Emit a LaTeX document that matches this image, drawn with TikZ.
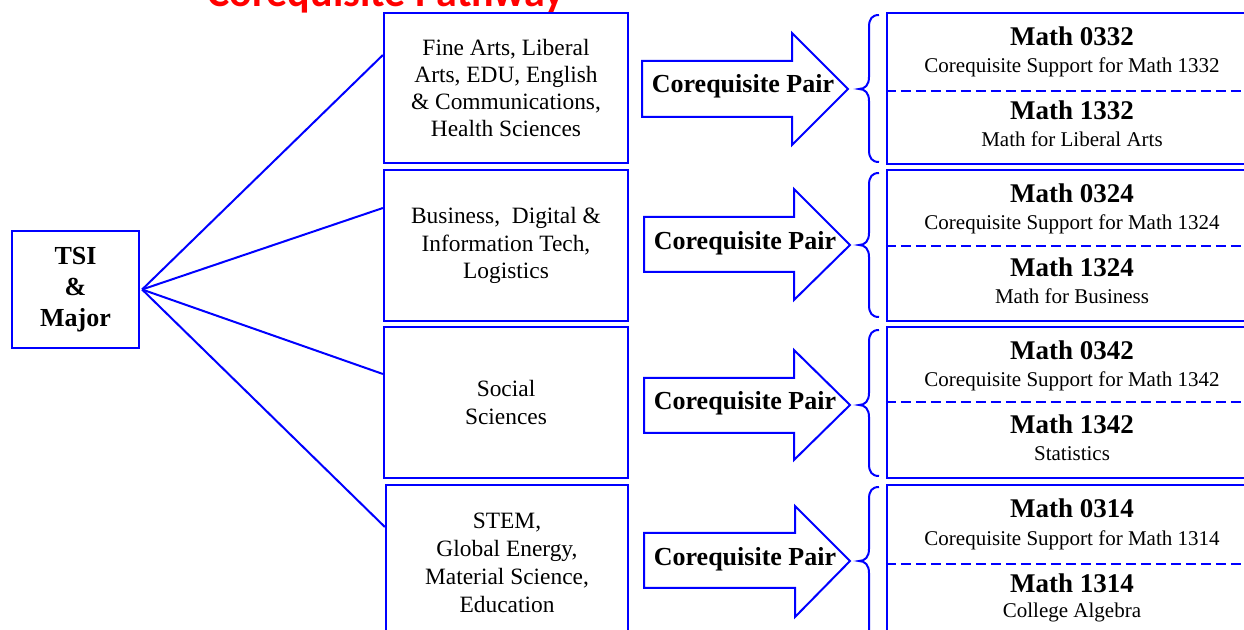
\documentclass[tikz,border=0pt]{standalone}
\usepackage{fontspec}
\setmainfont{Liberation Serif}
\newfontfamily\titlefont{Carlito}
\newcommand\mybrace[3]{%
  \draw[bracestyle] (879,#1) .. controls (872,#1) and (869,#1+4) .. (869,#1+12)
    -- (869,#2-12) .. controls (869,#2-4) and (865,#2) .. (859,#2)
    .. controls (865,#2) and (869,#2+4) .. (869,#2+12)
    -- (869,#3-12) .. controls (869,#3-4) and (872,#3) .. (879,#3);}
\begin{document}
\begin{tikzpicture}[x=0.5pt,y=-0.5pt,
  bl/.style={draw=blue,line width=1.1pt},
  catbox/.style={bl,rectangle,align=center,inner sep=0pt,minimum width=122pt,font=\fontsize{11.7}{13.6}\selectfont},
  rbox/.style={bl,rectangle,inner sep=0pt,minimum width=181.5pt},
  ttl/.style={anchor=base,font=\bfseries\fontsize{13.5}{16}\selectfont,inner sep=0pt},
  subtext/.style={anchor=base,font=\fontsize{10.5}{12}\selectfont,inner sep=0pt},
  conn/.style={draw=blue,line width=1pt},
  blockarrow/.style={draw=blue,line width=1pt,fill=white,line join=miter},
  pairtext/.style={anchor=base,font=\bfseries\fontsize{13}{15}\selectfont,inner sep=0pt},
  bracestyle/.style={draw=blue,line width=1pt},
  divider/.style={draw=blue,line width=1pt,dash pattern=on 5pt off 2.5pt}
]
\useasboundingbox (0,0) rectangle (1244,630);
\clip (0,0) rectangle (1244,630);

% title
\node[anchor=base,text=red,font=\titlefont\bfseries\fontsize{21}{24}\selectfont,inner sep=0pt] (title) at (386,7) {Corequisite Pathway};

% TSI box
\node[bl,rectangle,align=center,inner sep=0pt,minimum width=63.5pt,minimum height=58.5pt,
      font=\bfseries\fontsize{13}{15.5}\selectfont] (tsi) at (75.5,289.5) {TSI\\\&\\Major};

% category boxes
\node[catbox,minimum height=75pt] (cat1) at (506,88) {Fine Arts, Liberal\\Arts, EDU, English\\\& Communications,\\Health Sciences};
\node[catbox,minimum height=75.5pt] (cat2) at (506,245.5) {Business,\ \ Digital \&\\Information Tech,\\Logistics};
\node[catbox,minimum height=75.5pt] (cat3) at (506,402.5) {Social\\Sciences};
\node[catbox,minimum width=121pt,minimum height=77.5pt,font=\fontsize{11.7}{14}\selectfont] (cat4) at (507,562.5) {STEM,\\Global Energy,\\Material Science,\\Education};

% connectors
\draw[conn] ([xshift=1pt]tsi.east) -- ([yshift=16.5pt]cat1.west);
\draw[conn] ([xshift=1pt]tsi.east) -- ([yshift=18.75pt]cat2.west);
\draw[conn] ([xshift=1pt]tsi.east) -- ([yshift=14.25pt]cat3.west);
\draw[conn] ([xshift=1pt]tsi.east) -- ([yshift=17.75pt]cat4.west);

% block arrows
\draw[blockarrow] (642,61) -- (792,61) -- (792,33) -- (848,89) -- (792,145) -- (792,117) -- (642,117) -- cycle;
\draw[blockarrow] (644,217) -- (794,217) -- (794,189) -- (850,245) -- (794,300) -- (794,272) -- (644,272) -- cycle;
\draw[blockarrow] (644,378) -- (794,378) -- (794,350) -- (850,405) -- (794,460) -- (794,433) -- (644,433) -- cycle;
\draw[blockarrow] (644,533) -- (795,533) -- (795,506) -- (850,561) -- (795,617) -- (795,588) -- (644,588) -- cycle;
\node[pairtext] (pair1) at (743,93) {Corequisite Pair};
\node[pairtext] (pair2) at (745,250) {Corequisite Pair};
\node[pairtext] (pair3) at (745,410) {Corequisite Pair};
\node[pairtext] (pair4) at (745,566) {Corequisite Pair};

% braces
\mybrace{15}{89}{162}
\mybrace{173}{245}{317}
\mybrace{330}{405}{476}
\mybrace{487}{561}{650}

% right boxes
\node[rbox,minimum height=75.5pt] (rb1) at (1068.5,88.5) {};
\node[rbox,minimum height=75.5pt] (rb2) at (1068.5,245.5) {};
\node[rbox,minimum height=75.5pt] (rb3) at (1068.5,402.5) {};
\node[rbox,minimum height=77.5pt] (rb4) at (1068.5,562.5) {};

\draw[divider] (rb1.west |- 0,91) -- (rb1.east |- 0,91);
\draw[divider] (rb2.west |- 0,246) -- (rb2.east |- 0,246);
\draw[divider] (rb3.west |- 0,402) -- (rb3.east |- 0,402);
\draw[divider] (rb4.west |- 0,564) -- (rb4.east |- 0,564);

\node[ttl] (m1a) at (1072,46) {Math 0332};
\node[subtext] (s1a) at (1072,73) {Corequisite Support for Math 1332};
\node[ttl] (m1b) at (1072,120) {Math 1332};
\node[subtext] (s1b) at (1072,147) {Math for Liberal Arts};

\node[ttl] (m2a) at (1072,203) {Math 0324};
\node[subtext] (s2a) at (1072,230) {Corequisite Support for Math 1324};
\node[ttl] (m2b) at (1072,277) {Math 1324};
\node[subtext] (s2b) at (1072,304) {Math for Business};

\node[ttl] (m3a) at (1072,360) {Math 0342};
\node[subtext] (s3a) at (1072,387) {Corequisite Support for Math 1342};
\node[ttl] (m3b) at (1072,434) {Math 1342};
\node[subtext] (s3b) at (1072,461) {Statistics};

\node[ttl] (m4a) at (1072,518) {Math 0314};
\node[subtext] (s4a) at (1072,546) {Corequisite Support for Math 1314};
\node[ttl] (m4b) at (1072,593) {Math 1314};
\node[subtext] (s4b) at (1072,618) {College Algebra};
\end{tikzpicture}
\end{document}
